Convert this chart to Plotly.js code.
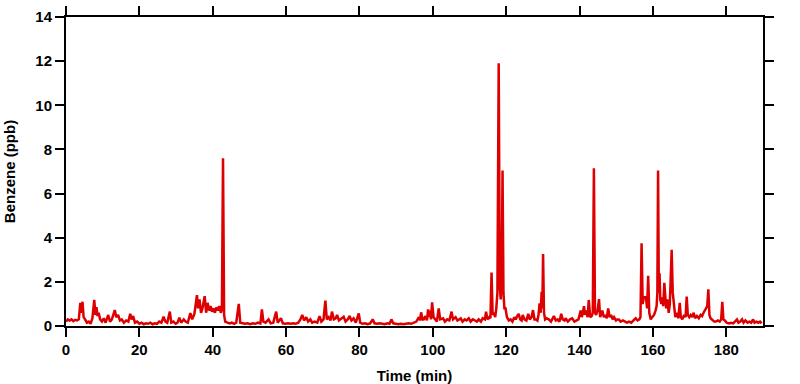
<!DOCTYPE html>
<html>
<head>
<meta charset="utf-8">
<script src="https://cdn.plot.ly/plotly-3.0.1.min.js"></script>
<style>html,body{margin:0;padding:0;background:#fff;}#chart{width:800px;height:384px;}</style>
</head>
<body>
<div id="chart"></div>
<script>
const time = [
0,0.5,1,1.5,2,2.5,3,3.5,3.9,4.2,4.5,4.8,5.2,5.7,6.2,6.7,7.2,7.7,8.0,8.3,
8.6,8.9,9.3,9.8,10.3,10.8,11.5,12,12.5,13.3,13.7,14.2,14.7,15.2,15.8,16.4,17,17.5,17.9,18.3,
18.8,19.4,20,20.6,21.2,21.8,22.4,23,23.6,24.2,24.8,25.4,26,26.6,27.1,27.6,28.3,28.7,29.3,29.9,
30.4,30.9,31.4,32.1,32.6,33.2,33.9,34.4,35,35.4,35.7,36.0,36.4,36.8,37.2,37.8,38.2,38.6,39,39.4,
39.8,40.2,40.6,41,41.4,41.8,42.2,42.5,42.8,43.1,43.4,44,44.6,45.2,45.8,46.4,47.1,47.5,48.2,48.8,
49.5,50.2,50.9,51.6,52.3,53,53.4,53.8,54.4,55.2,55.8,56.5,57.3,57.7,58.6,59.1,59.8,60.5,61.2,61.9,
62.6,63.3,63.9,64.4,64.9,65.5,66,66.6,67.1,67.8,68.5,69.1,69.6,70.2,70.7,71.1,71.6,72.1,72.5,73,
73.5,73.9,74.4,75,75.7,76.2,76.8,77.3,77.8,78.4,79,79.8,80.2,80.8,81.5,82.2,82.9,83.6,84.1,84.8,
85.5,86.2,86.9,87.6,88.2,88.7,89.2,89.9,90.6,91.3,92,92.7,93.4,94.1,94.8,95.5,96.2,96.5,96.8,97.2,
97.5,98,98.4,98.7,99.0,99.2,99.5,99.8,100.2,100.7,101.1,101.6,102,102.8,103.3,103.9,104.5,105.1,105.5,106.2,
106.7,107.2,107.6,108.1,108.7,109.2,109.8,110.3,110.9,111.5,112,112.5,113.1,113.6,114.2,114.5,114.9,115.4,115.7,116.0,
116.3,116.6,117.0,117.3,117.6,117.95,118.25,118.5,118.75,119.0,119.25,119.5,119.8,120.2,120.7,121.2,121.7,122.2,122.6,123,
123.4,123.8,124.2,124.5,125,125.5,126,126.4,126.9,127.3,127.7,128.1,128.5,128.8,129.1,129.4,129.65,129.85,130.05,130.3,
130.6,131,131.6,132.2,132.6,133,133.5,134,134.5,135,135.4,135.9,136.2,136.8,137.4,138,138.6,139.2,139.7,140.3,
140.6,140.9,141.2,141.5,141.8,142.2,142.5,142.9,143.3,143.6,143.9,144.2,144.5,144.9,145.3,145.6,145.9,146.2,146.6,147,
147.4,147.8,148.2,148.6,149,149.4,149.9,150.3,150.7,151.2,151.8,152.3,152.9,153.5,154.1,154.7,155.3,155.8,156.3,156.6,
156.9,157.2,157.5,157.8,158.1,158.4,158.7,159,159.4,159.8,160.3,160.7,161.0,161.2,161.4,161.6,161.8,162.0,162.3,162.6,
162.8,163.1,163.4,163.6,163.9,164.3,164.6,164.9,165.1,165.4,165.7,166.1,166.5,166.9,167.3,167.6,168,168.5,168.9,169.2,
169.5,169.9,170.3,170.7,171.1,171.5,172,172.5,173,173.4,173.8,174.2,174.5,174.8,175.1,175.4,175.7,176.2,176.7,177.2,
177.7,178.2,178.6,178.9,179.2,179.6,180.1,180.7,181.3,181.9,182.4,182.9,183.3,183.8,184.3,184.7,185.2,185.8,186.3,186.8,
187.3,187.7,188.2,188.7,189.2,189.6
];
const benzene = [
0.2,0.3,0.25,0.3,0.22,0.28,0.25,0.3,1.05,0.6,1.1,0.4,0.3,0.15,0.2,0.1,0.35,1.18,0.5,0.85,
0.45,0.6,0.3,0.2,0.35,0.15,0.5,0.2,0.3,0.72,0.4,0.5,0.25,0.3,0.15,0.25,0.2,0.55,0.3,0.45,
0.15,0.2,0.1,0.15,0.08,0.12,0.1,0.15,0.08,0.12,0.1,0.2,0.15,0.42,0.2,0.15,0.65,0.15,0.2,0.1,
0.15,0.38,0.15,0.3,0.2,0.15,0.58,0.3,0.55,1.0,1.4,0.8,1.2,0.6,0.8,1.35,0.6,1.05,0.7,0.9,
0.65,0.8,0.6,0.85,0.7,0.9,0.6,0.75,7.6,0.5,0.2,0.15,0.12,0.15,0.1,0.15,1.0,0.15,0.12,0.1,
0.12,0.08,0.12,0.1,0.15,0.12,0.75,0.2,0.15,0.3,0.12,0.15,0.65,0.15,0.35,0.12,0.1,0.12,0.1,0.12,
0.1,0.15,0.3,0.5,0.25,0.4,0.2,0.3,0.15,0.2,0.15,0.45,0.2,0.3,1.15,0.3,0.4,0.25,0.65,0.3,
0.35,0.5,0.25,0.35,0.42,0.2,0.3,0.45,0.25,0.35,0.15,0.57,0.15,0.1,0.12,0.08,0.12,0.3,0.12,0.1,
0.12,0.1,0.08,0.12,0.1,0.3,0.12,0.1,0.08,0.1,0.08,0.1,0.12,0.1,0.15,0.2,0.4,0.25,0.62,0.3,
0.3,0.45,0.25,0.75,0.4,0.7,0.3,1.07,0.4,0.3,0.2,0.8,0.3,0.35,0.2,0.3,0.25,0.65,0.3,0.4,
0.25,0.3,0.35,0.2,0.3,0.25,0.35,0.2,0.3,0.25,0.2,0.3,0.2,0.35,0.3,0.65,0.3,0.4,0.35,2.42,
0.5,0.6,0.4,0.8,1.5,11.9,1.8,1.2,2.0,7.05,1.5,0.8,0.8,0.4,0.25,0.3,0.2,0.4,0.3,0.45,
0.55,0.3,0.25,0.5,0.3,0.25,0.55,0.3,0.4,0.72,0.3,0.3,0.25,0.5,1.03,0.6,1.55,0.8,3.26,0.6,
0.3,0.35,0.3,0.2,0.35,0.45,0.25,0.3,0.2,0.55,0.3,0.25,0.35,0.2,0.3,0.35,0.2,0.25,0.3,0.7,
0.4,0.6,0.9,0.5,0.7,0.4,1.18,0.4,0.45,0.6,7.15,0.6,0.5,0.7,1.22,0.4,0.6,0.7,0.4,0.5,
0.35,0.8,0.4,0.5,0.3,0.4,0.25,0.3,0.3,0.2,0.25,0.2,0.15,0.2,0.15,0.25,0.35,0.25,0.3,0.4,
3.75,1.0,1.3,1.3,1.3,0.8,2.27,0.6,0.3,0.4,0.5,0.7,0.9,1.5,7.05,1.5,2.39,1.2,1.0,1.3,
0.9,1.96,0.9,0.8,1.2,0.6,1.0,2.5,3.45,1.5,0.9,0.4,0.6,0.35,1.05,0.4,0.3,0.5,0.4,1.33,
0.5,0.4,0.5,0.4,0.6,0.35,0.45,0.35,0.5,0.45,0.6,0.7,0.8,0.9,1.66,0.5,0.35,0.25,0.2,0.2,
0.25,0.2,0.3,1.1,0.3,0.25,0.15,0.12,0.15,0.12,0.2,0.3,0.15,0.2,0.3,0.15,0.25,0.15,0.2,0.15,
0.3,0.15,0.2,0.15,0.2,0.12
];
const xTicks = [0,20,40,60,80,100,120,140,160,180];
const yTicks = [0,2,4,6,8,10,12,14];

const tickFont = {family: 'Liberation Sans, Arial, sans-serif', size: 15, color: '#000', weight: 'bold'};
const titleFont = {family: 'Liberation Sans, Arial, sans-serif', size: 15, color: '#000', weight: 'bold'};
const axisCommon = {
  showline: true, linecolor: '#000', linewidth: 2, mirror: 'ticks',
  ticks: 'outside', ticklen: 9, tickwidth: 2, tickcolor: '#000',
  showgrid: false, zeroline: false, tickfont: tickFont
};

Plotly.newPlot('chart', [{
  x: time, y: benzene, type: 'scatter', mode: 'lines',
  line: {color: 'rgb(222,0,0)', width: 2.5}, hoverinfo: 'skip'
}], {
  width: 800, height: 384,
  margin: {l: 66, r: 37, t: 17, b: 58},
  paper_bgcolor: '#fff', plot_bgcolor: '#fff',
  showlegend: false,
  xaxis: Object.assign({}, axisCommon, {
    range: [0, 190], tickvals: xTicks,
    title: {text: 'Time (min)', font: titleFont, standoff: 14}
  }),
  yaxis: Object.assign({}, axisCommon, {
    range: [0, 14], tickvals: yTicks,
    title: {text: 'Benzene (ppb)', font: titleFont, standoff: 16}
  })
}, {staticPlot: true});
</script>
</body>
</html>
